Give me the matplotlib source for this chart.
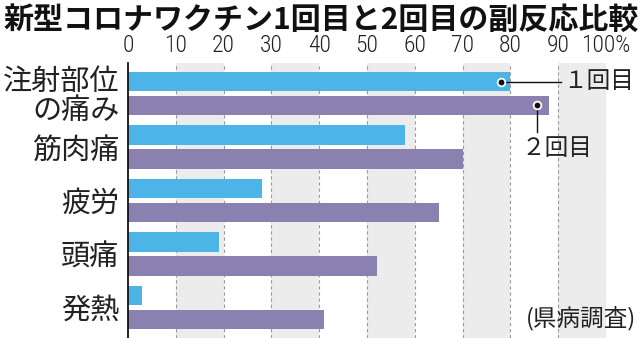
import matplotlib
matplotlib.use("Agg")
import matplotlib.pyplot as plt
from matplotlib import font_manager as fm

plt.rcParams['font.family'] = ['Noto Sans CJK JP', 'DejaVu Sans']

title = "新型コロナワクチン1回目と2回目の副反応比較"
categories = ["注射部位\nの痛み", "筋肉痛", "疲労", "頭痛", "発熱"]
dose1 = [80, 58, 28, 19, 3]
dose2 = [88, 70, 65, 52, 41]
tick_values = [0, 10, 20, 30, 40, 50, 60, 70, 80, 90, 100]
tick_labels = ["0", "10", "20", "30", "40", "50", "60", "70", "80", "90", "100%"]
series_labels = ["１回目", "２回目"]
source = "(県病調査)"

names = {f.name for f in fm.fontManager.ttflist}
tick_family = "Roboto"
for cand in ["Roboto Condensed", "Liberation Sans Narrow", "PT Sans Narrow", "Archivo Narrow",
             "Open Sans Condensed", "Barlow Condensed", "IBM Plex Sans Condensed"]:
    if cand in names:
        tick_family = cand
        break

W, H = 640, 338
fig = plt.figure(figsize=(W / 100, H / 100), dpi=100)
ax_left, ax_right, ax_top, ax_bottom = 128, 606, 63, 338
ax = fig.add_axes([ax_left / W, 1 - ax_bottom / H, (ax_right - ax_left) / W, (ax_bottom - ax_top) / H])

blue = "#4cb4e7"
purple = "#8b81b1"
band = "#ececec"

for a in range(10, 100, 20):
    ax.axvspan(a, a + 10, color=band, zorder=0, lw=0)
for t in tick_values[1:]:
    ax.axvline(t, color="#9a9a9a", lw=0.8, ls=(0, (3, 2.5)), zorder=1)

n = len(categories)
ys = list(range(n))
off = 0.222
h = 0.365
ax.barh([y - off for y in ys], dose1, height=h, color=blue, zorder=2)
ax.barh([y + off for y in ys], dose2, height=h, color=purple, zorder=2)

ax.set_xlim(0, 100)
ax.set_ylim(4.57, -0.57)
for s in ["top", "right", "bottom"]:
    ax.spines[s].set_visible(False)
ax.spines["left"].set_linewidth(1.3)
ax.spines["left"].set_color("#111111")
ax.spines["left"].set_zorder(3)

ax.xaxis.tick_top()
ax.set_xticks(tick_values)
ax.set_xticklabels(tick_labels, fontsize=17, color="#222222", family=[tick_family, "DejaVu Sans"], fontweight="light")
ax.tick_params(axis="x", length=0, pad=4)
ax.set_yticks(ys)
ax.set_yticklabels(categories, fontsize=21, color="#222222", linespacing=0.95)
ax.tick_params(axis="y", length=0, pad=6)

# annotations
ax.plot([78], [0 - off], marker="o", ms=5.5, color="#111111", mec="white", mew=1.3, zorder=5)
ax.plot([78, 90.5], [0 - off, 0 - off], color="#111111", lw=1.0, zorder=4)
ax.text(91.0, 0 - off, series_labels[0], fontsize=17, va="center", ha="left", color="#222222", zorder=6)

ax.plot([85.5], [0 + off], marker="o", ms=5.5, color="#111111", mec="white", mew=1.3, zorder=5)
ax.plot([85.5, 85.5], [0 + off, 0.72], color="#111111", lw=1.0, zorder=4)
ax.text(89.7, 1.02, series_labels[1], fontsize=17, va="center", ha="center", color="#222222", zorder=6)

fig.text(636 / W, 1 - 318 / H, source, fontsize=17, va="center", ha="right", color="#222222", zorder=6)

fig.text(3 / W, 1 - 20 / H, title, fontsize=21.6, fontweight="bold", va="center", ha="left", color="#111111")

fig.savefig("out.png", dpi=100)
